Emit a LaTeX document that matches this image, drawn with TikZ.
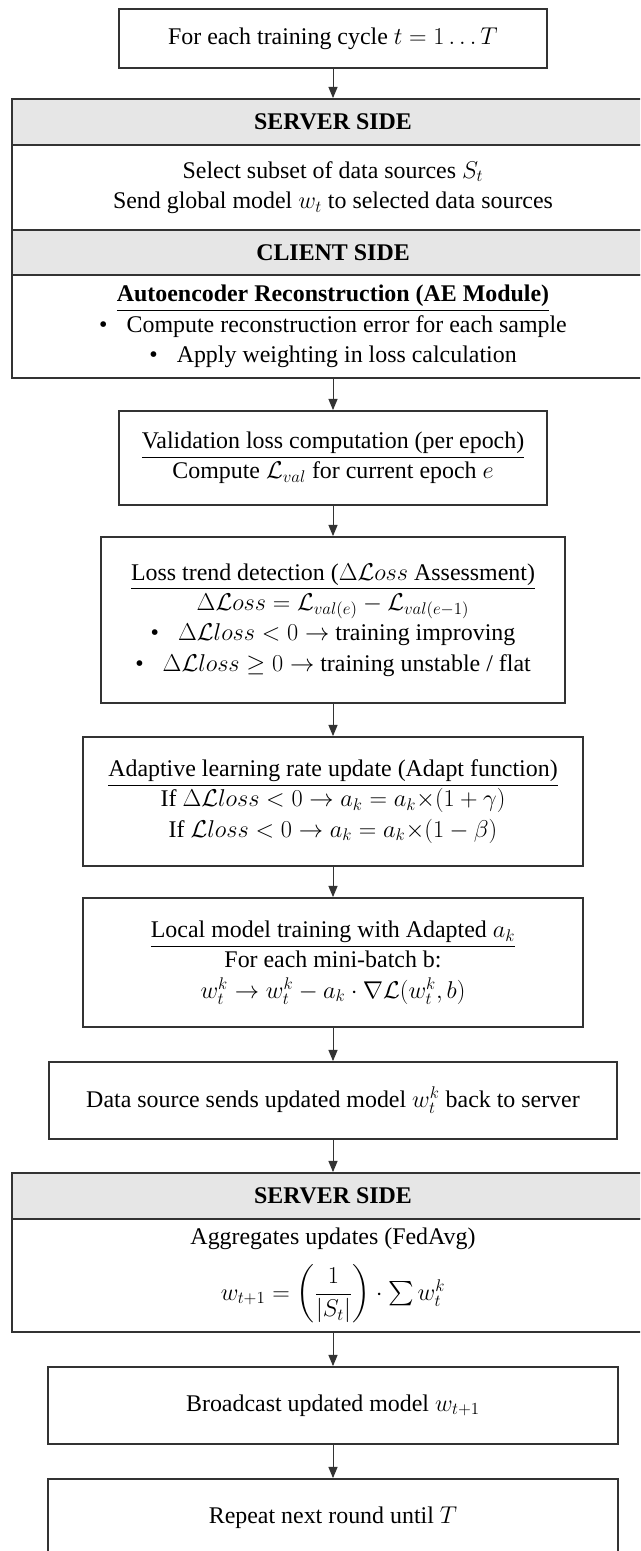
\documentclass[tikz,border=0pt]{standalone}
\usepackage{fontspec}
\setmainfont{Liberation Serif}
\usepackage{amsmath}
\usepackage{tikz}
\usetikzlibrary{positioning, arrows.meta}
\definecolor{myline}{HTML}{333333}
\definecolor{mygray}{HTML}{E6E6E6}
\tikzset{
	flownode/.style={
			rectangle,
			draw=myline,
			line width=1.3pt,
			fill=white,
			align=center,
			inner sep=0pt,
			font=\fontsize{17}{21.5}\selectfont
		},
	headnode/.style={
			flownode,
			fill=mygray,
			minimum width=16.05cm,
			minimum height=1.15cm,
			font=\fontsize{17}{21.5}\selectfont\bfseries
		},
	bodynode/.style={
			flownode,
			minimum width=16.05cm
		},
	flowarrow/.style={
			line width=0.7pt,
			draw=myline,
			-{Triangle[length=8pt,width=6.5pt]}
		}
}
\newcommand{\Lc}{\mathcal{L}}
\newcommand{\bul}{\textbullet\hspace{0.8em}}

\begin{document}
\begin{tikzpicture}[x=0.025cm, y=-0.025cm]
\clip (0,0) rectangle (640,1551);
\node[flownode, minimum width=10.7cm, minimum height=1.475cm] (cycle) at (333,38.5) {For each training cycle $t = 1 \ldots T$};

\node[headnode] (srvhead) at (333,122) {SERVER SIDE};
\node[bodynode, minimum height=2.125cm] (srvbody) at (333,187.5) {Select subset of data sources $S_t$\\Send global model $w_t$ to selected data sources};
\node[headnode, minimum height=1.125cm] (clihead) at (333,252.5) {CLIENT SIDE};
\node[bodynode, minimum height=2.575cm] (clibody) at (333,326.5) {\textbf{\underline{Autoencoder Reconstruction (AE Module)}}\\\bul Compute reconstruction error for each sample\\\bul Apply weighting in loss calculation};

\node[flownode, minimum width=10.7cm, minimum height=2.35cm] (valid) at (333,458) {\underline{Validation loss computation (per epoch)}\\Compute $\Lc_{val}$ for current epoch $e$};
\node[flownode, minimum width=11.6cm, minimum height=4.15cm] (trend) at (333,620) {\underline{Loss trend detection ($\Delta\Lc oss$ Assessment)}\\$\Delta\Lc oss = \Lc_{val(e)} - \Lc_{val(e-1)}$\\\bul $\Delta\Lc loss < 0 \rightarrow$ training improving\\\bul $\Delta\Lc loss \geq 0 \rightarrow$ training unstable / flat};
\node[flownode, minimum width=12.5cm, minimum height=3.225cm] (adapt) at (333,801.5) {\underline{Adaptive learning rate update (Adapt function)}\\If $\Delta\Lc loss < 0 \rightarrow a_k = a_k{\times}(1+\gamma)$\\If $\Lc loss < 0 \rightarrow a_k = a_k{\times}(1-\beta)$};
\node[flownode, minimum width=12.5cm, minimum height=3.225cm] (local) at (333,962.5) {\underline{Local model training with Adapted $a_k$}\\For each mini-batch b:\\$w_t^k \rightarrow w_t^k - a_k \cdot \nabla\Lc(w_t^k, b)$};
\node[flownode, minimum width=14.2cm, minimum height=1.925cm] (send) at (333,1100.5) {Data source sends updated model $w_t^k$ back to server};

\node[headnode] (srvhead2) at (333,1196) {SERVER SIDE};
\node[bodynode, minimum height=2.825cm] (srvbody2) at (333,1275.5) {Aggregates updates (FedAvg)\\[10pt]$w_{t+1} = \biggl(\dfrac{1}{|S_t|}\biggr) \cdot \sum w_t^k$};

\node[flownode, minimum width=14.25cm, minimum height=1.925cm] (bcast) at (333,1405.5) {Broadcast updated model $w_{t+1}$};
\node[flownode, minimum width=14.25cm, minimum height=1.95cm] (repeat) at (333,1518) {Repeat next round until $T$};

\draw[flowarrow] (cycle) -- (srvhead);
\draw[flowarrow] (clibody) -- (valid);
\draw[flowarrow] (valid) -- (trend);
\draw[flowarrow] (trend) -- (adapt);
\draw[flowarrow] (adapt) -- (local);
\draw[flowarrow] (local) -- (send);
\draw[flowarrow] (send) -- (srvhead2);
\draw[flowarrow] (srvbody2) -- (bcast);
\draw[flowarrow] (bcast) -- (repeat);
\end{tikzpicture}
\end{document}
